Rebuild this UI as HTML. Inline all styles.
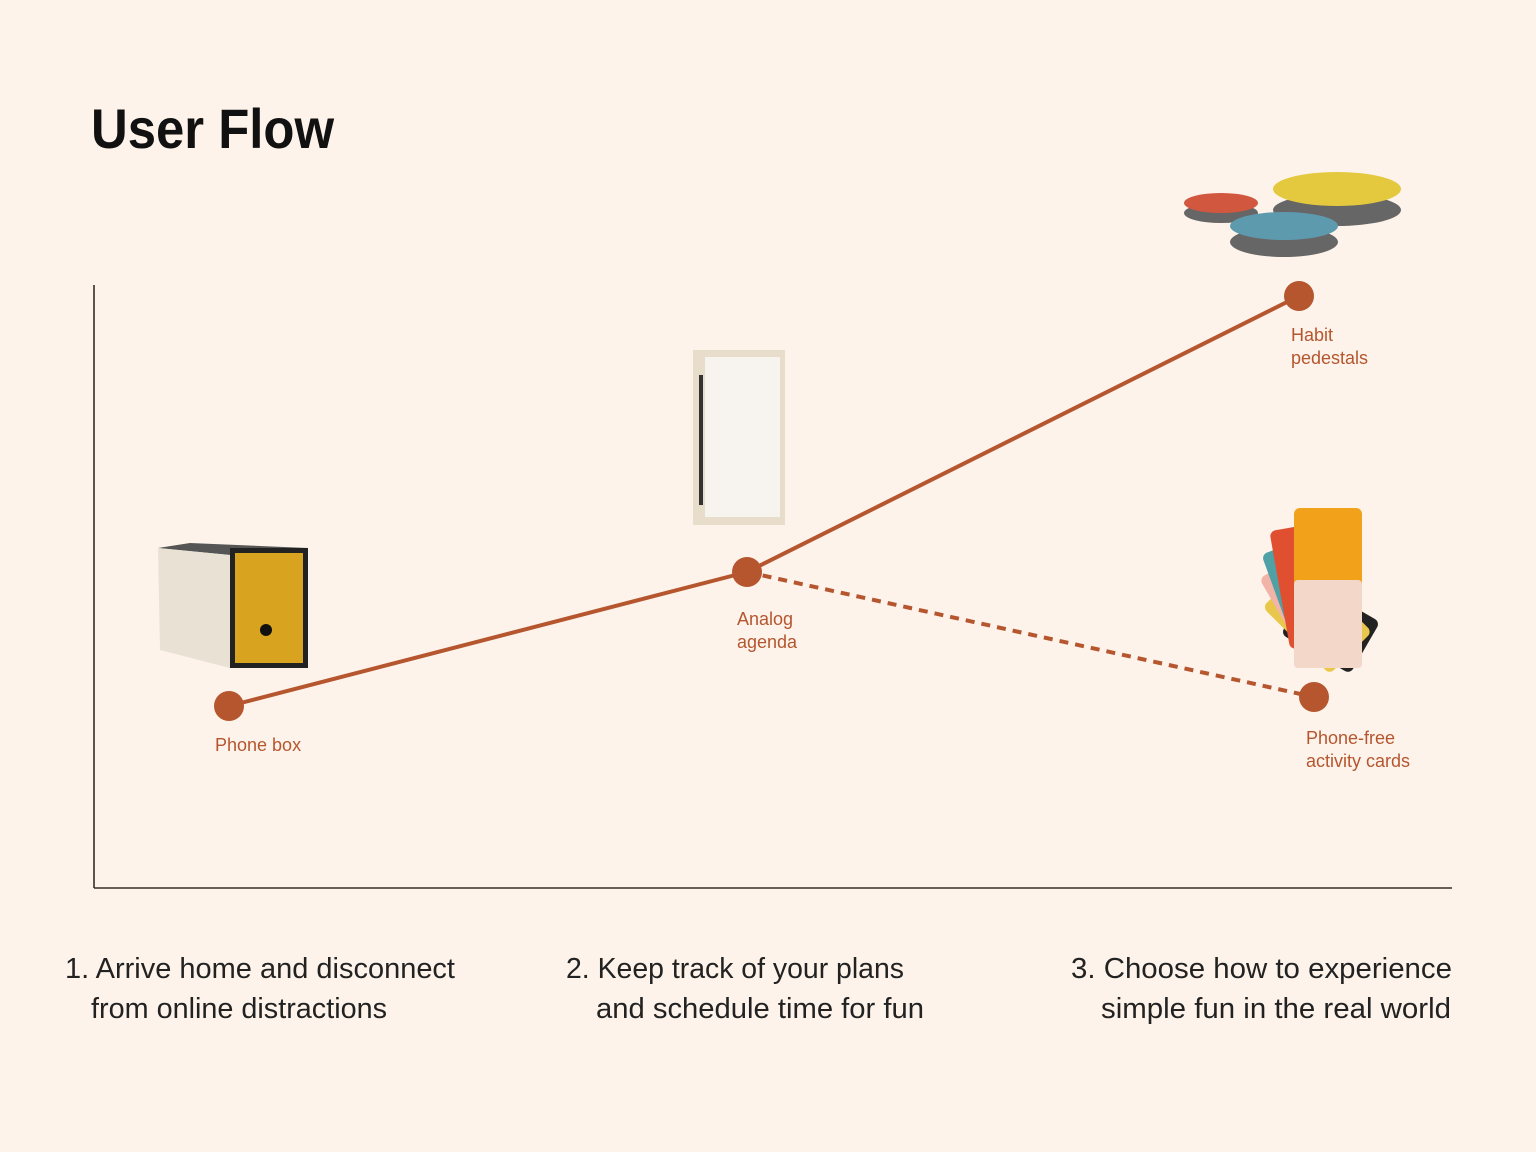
<!DOCTYPE html>
<html><head><meta charset="utf-8"><style>
html,body{margin:0;padding:0;background:#FDF3EA;}
svg{display:block}
text{font-family:"Liberation Sans",sans-serif;}
</style></head><body>
<svg width="1536" height="1152" viewBox="0 0 1536 1152" xmlns="http://www.w3.org/2000/svg">
<rect width="1536" height="1152" fill="#FDF3EA"/>
<text x="91" y="148" font-size="56" font-weight="bold" fill="#111" textLength="243" lengthAdjust="spacingAndGlyphs">User Flow</text>
<!-- axes -->
<line x1="94" y1="285" x2="94" y2="888" stroke="#3a2c25" stroke-width="1.6"/>
<line x1="94" y1="888" x2="1452" y2="888" stroke="#3a2c25" stroke-width="1.6"/>
<!-- lines -->
<g stroke="#B5562F" stroke-width="4" fill="none">
<line x1="229" y1="706" x2="747" y2="572"/>
<line x1="747" y1="572" x2="1299" y2="296"/>
<line x1="747" y1="572" x2="1314" y2="697" stroke-dasharray="9,7"/>
</g>
<g fill="#B5562F">
<circle cx="229" cy="706" r="15"/>
<circle cx="747" cy="572" r="15"/>
<circle cx="1299" cy="296" r="15"/>
<circle cx="1314" cy="697" r="15"/>
</g>
<g fill="#B5562F" font-size="18">
<text x="215" y="751">Phone box</text>
<text x="737" y="625">Analog</text>
<text x="737" y="648">agenda</text>
<text x="1291" y="341">Habit</text>
<text x="1291" y="364">pedestals</text>
<text x="1306" y="744">Phone-free</text>
<text x="1306" y="767">activity cards</text>
</g>
<!-- phone box -->
<polygon points="158,548 190,543 308,548 230,555" fill="#555"/>
<polygon points="158,548 230,555 230,668 160,650" fill="#e9e2d4"/>
<rect x="230" y="548" width="78" height="120" fill="#222"/>
<rect x="235" y="553" width="68" height="110" fill="#D8A31E"/>
<circle cx="266" cy="630" r="6" fill="#111"/>
<!-- agenda -->
<rect x="693" y="350" width="92" height="175" fill="#e8dccb"/>
<rect x="705" y="357" width="75" height="160" fill="#f7f4f0"/>
<g fill="#333"><rect x="699" y="375" width="4" height="130"/></g>
<!-- pedestals -->
<ellipse cx="1337" cy="210" rx="64" ry="16" fill="#666"/>
<ellipse cx="1337" cy="189" rx="64" ry="17" fill="#E4C93E"/>
<ellipse cx="1221" cy="213" rx="37" ry="10" fill="#666"/>
<ellipse cx="1221" cy="203" rx="37" ry="10" fill="#D2573F"/>
<ellipse cx="1284" cy="242" rx="54" ry="15" fill="#666"/>
<ellipse cx="1284" cy="226" rx="54" ry="14" fill="#5E9AAE"/>
<!-- cards -->
<g transform="translate(1312,600)">
<rect x="-45" y="-10" width="60" height="80" rx="6" fill="#222" transform="rotate(-60)"/>
<rect x="-40" y="-30" width="60" height="95" rx="6" fill="#E9C74A" transform="rotate(-45)"/>
<rect x="-35" y="-45" width="60" height="100" rx="6" fill="#F2B3A8" transform="rotate(-30)"/>
<rect x="-32" y="-60" width="60" height="110" rx="6" fill="#4FA1A6" transform="rotate(-20)"/>
<rect x="-30" y="-75" width="60" height="120" rx="6" fill="#E04F2F" transform="rotate(-10)"/>
<rect x="-18" y="-92" width="68" height="160" rx="6" fill="#F2A21A"/>
<rect x="-18" y="-20" width="68" height="88" rx="4" fill="#f3d7c8"/>
</g>
<!-- bottom text -->
<g font-size="29" fill="#222">
<text x="65" y="978" textLength="390" lengthAdjust="spacingAndGlyphs">1. Arrive home and disconnect</text>
<text x="91" y="1018" textLength="296" lengthAdjust="spacingAndGlyphs">from online distractions</text>
<text x="566" y="978" textLength="338" lengthAdjust="spacingAndGlyphs">2. Keep track of your plans</text>
<text x="596" y="1018" textLength="328" lengthAdjust="spacingAndGlyphs">and schedule time for fun</text>
<text x="1071" y="978" textLength="381" lengthAdjust="spacingAndGlyphs">3. Choose how to experience</text>
<text x="1101" y="1018" textLength="350" lengthAdjust="spacingAndGlyphs">simple fun in the real world</text>
</g>
</svg>
</body></html>
